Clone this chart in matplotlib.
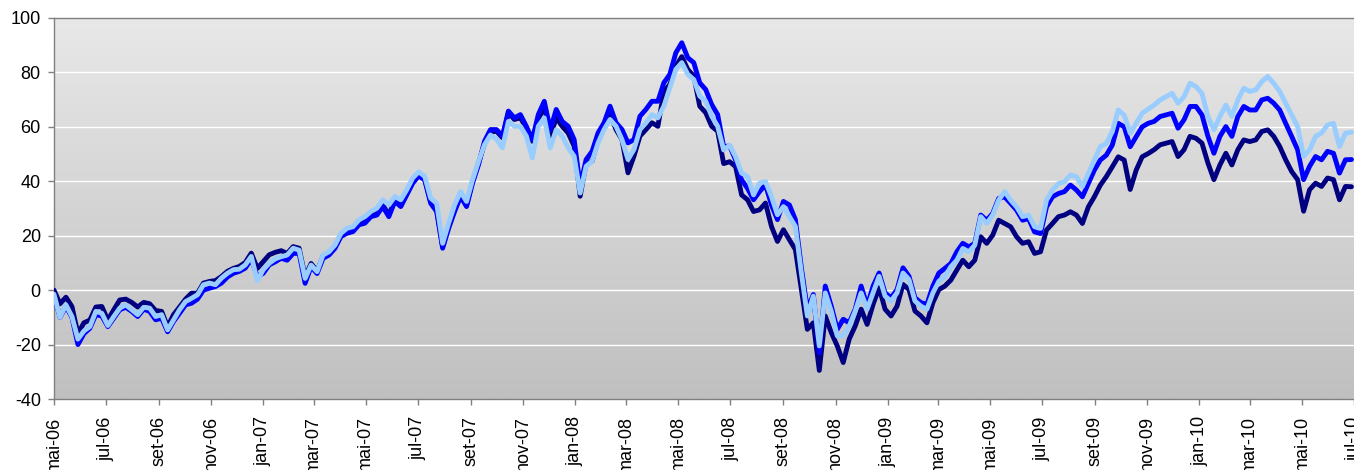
import numpy as np
import pandas as pd
import matplotlib
matplotlib.use("Agg")
import matplotlib.pyplot as plt
from matplotlib.colors import LinearSegmentedColormap

plt.rcParams['font.family'] = ['Liberation Sans', 'DejaVu Sans']

start_date = "2006-05-01"
end_date = "2010-07-01"

light = [-1.5, -10, -5.4, -9.7, -18, -15, -13.4, -7.8, -8.5, -13, -9.7, -6.6, -5.4, -7.2, -9, -6.3, -6.6, -9.7, -9, -14.6,
         -10.9, -7.2, -4.2, -3, -1.7, 2, 2.6, 2, 4.4, 6.2, 7.5, 7.7, 9.3, 12.4, 3.5, 7.5, 9.9, 11.5, 12.3, 12.9,
         15.4, 14.7, 4.3, 9.2, 6.8, 12.9, 14.1, 16.6, 20.9, 22.7, 23.3, 25.8, 27, 28.9, 30.1, 33.2, 31.3, 34.4, 33.2, 36.9,
         41.2, 43.5, 41.8, 33.8, 31.9, 17.2, 24.6, 31.3, 36.2, 32.6, 40.5, 47.3, 53.4, 57, 55.5, 52.3, 62, 60.2, 60.2, 56.6,
         48.6, 60.2, 63.3, 52.3, 59, 56.6, 52.3, 49.2, 35.7, 45.5, 47.4, 54.1, 59, 62.7, 60.2, 55.3, 48, 51.7, 59, 61.5,
         64.5, 63.3, 67.6, 74.4, 81.1, 83.6, 79.3, 77.4, 71.3, 69.4, 63.9, 60.2, 51.5, 53.3, 49, 43, 41.7, 35, 39.3, 39.9,
         34.4, 27.7, 30.7, 27, 23.4, 6.3, -9.5, -2.2, -20.5, -1, -7.7, -16.8, -16.8, -13.2, -7.7, -1, -7, -1, 5.1, -2.2,
         -4, -1, 6.3, 3.9, -4, -5.9, -7, -1, 3.3, 5, 8.6, 11, 15.3, 14.1, 16.5, 27, 24.5, 27.6, 33.1, 36.2,
         33.1, 30.6, 27, 27.6, 23.3, 22.7, 33.1, 36.8, 39.2, 39.8, 42.3, 41.7, 38, 42.9, 47.8, 52.7, 53.9, 58.2, 66.2, 64.3,
         57.6, 61.3, 65, 66.5, 68, 69.9, 71.1, 72.3, 68.7, 71.1, 76, 74.8, 72.3, 63.8, 58.9, 63.8, 68, 63.8, 69.9, 74.2,
         73, 73.6, 76.6, 78.5, 76, 73, 68.7, 64.4, 60.1, 49.1, 51.6, 56.5, 57.7, 60.7, 61.3, 52.8, 57.7, 58]

blue = [-2, -10, -6, -10, -20, -16, -14, -9, -9.5, -13.4, -10.3, -7.2, -6.3, -7.8, -9.7, -7, -7.8, -10.9, -10.3, -15.3,
        -11.5, -8.5, -5.4, -4.8, -3.3, 0, 0.7, 1.3, 2.6, 4.8, 6.2, 6.9, 8.1, 11.4, 5, 6.2, 9.3, 10.4, 11.7, 11,
        13.5, 13.5, 2.5, 8.6, 6.1, 11.7, 12.9, 15.4, 19.7, 20.9, 21.5, 24, 24.6, 27, 27.6, 30.7, 27, 32.6, 30.7, 35,
        39.3, 42, 40.5, 31.9, 28.9, 15.4, 22.7, 28.9, 34.4, 30.7, 39.3, 46.1, 54.7, 59, 59, 56.6, 65.8, 63.3, 64.5, 60.2,
        55.3, 64.5, 69.4, 59, 66.4, 62, 60.2, 55.3, 38.2, 48, 51, 57.8, 61.5, 67.6, 61.5, 59, 54.1, 55.3, 63.9, 66.4,
        69.4, 69.4, 76.2, 79.3, 87.2, 90.9, 85.4, 83.6, 76.2, 73.7, 68.2, 64.5, 52.7, 53, 47.8, 40.5, 37.4, 33.2, 36.2, 38.7,
        31.3, 25.9, 32.6, 31.3, 25.9, 8.2, -7, -1.6, -23, 1.5, -5.9, -14.4, -10.7, -12, -7, 1.5, -5.9, 1.5, 6.3, -1,
        -2.8, 0.2, 8.2, 5.1, -2.8, -4.6, -5.2, 1.5, 6.3, 8, 9.8, 14.1, 17.2, 15.9, 17.2, 27.6, 25.7, 28.2, 33.7, 34.3,
        31.9, 29.4, 25.7, 26.3, 21.4, 20.8, 30.6, 34.3, 35.5, 36.2, 38.6, 36.8, 34.3, 39.2, 44.1, 47.8, 49.6, 53.3, 61.3, 60,
        52.7, 56.4, 60, 61.3, 62, 63.8, 64.4, 65, 59.5, 62.6, 67.5, 67.5, 64.4, 56.5, 50.3, 56.5, 60.1, 56.5, 63.8, 67.5,
        66.2, 66.2, 69.9, 70.5, 68.7, 66.2, 61.3, 56.5, 51.6, 40.6, 45.5, 49.1, 47.9, 51, 50.3, 43, 47.9, 48]

navy = [0, -5, -2.6, -6, -16, -12, -11, -6.2, -6, -11, -7.2, -3.6, -3.3, -4.5, -6.2, -4.5, -5, -7.5, -7.8, -13.4,
        -9, -6.2, -3.3, -1.1, -1.1, 2.6, 3.2, 3.5, 5, 6.9, 8, 8.7, 10.2, 13.6, 8, 10.5, 13, 13.9, 14.5, 13.5,
        16, 15.4, 4.9, 9.8, 7, 12.5, 13.5, 16, 20.3, 21.5, 22.1, 24.6, 25.2, 27.6, 28.2, 31.3, 27.6, 33.2, 31.9, 35.6,
        39.9, 42.4, 40.8, 32.5, 29.5, 16, 23.3, 29.5, 35, 31.3, 39.9, 46.7, 53.8, 58, 58.4, 56, 65.2, 62.7, 63.3, 59.6,
        54.7, 62.7, 67.6, 56.6, 63.3, 60.2, 57.7, 52.9, 34.5, 46.7, 47.4, 55.3, 59.6, 64.5, 59, 55.3, 43.1, 49.2, 56.6, 59,
        61.5, 60.2, 72.9, 75.6, 82.3, 85.8, 81.1, 78.7, 67.6, 65.2, 60.2, 58.4, 46.5, 47.2, 45.4, 35, 33.2, 28.9, 29.5, 32,
        23.4, 17.9, 22.2, 18.5, 14.9, 0.2, -14.4, -12, -29.5, -9.5, -15.6, -20.5, -26.6, -18, -13.2, -7, -12.6, -5.2, 0.9, -7,
        -9.5, -5.9, 2.1, 0.2, -7.7, -9.5, -12, -4.6, 0.2, 1.5, 3.7, 7.4, 11, 8.6, 11, 19.6, 17.2, 20.2, 25.7, 24.5,
        23.3, 19.6, 17.2, 17.8, 13.5, 14.1, 22.1, 24.5, 27, 27.6, 28.8, 27.6, 24.5, 30.6, 34.3, 38.6, 41.7, 45.3, 49, 47.8,
        37, 44.1, 49, 50.2, 51.6, 53.4, 54, 54.6, 49.1, 51.6, 56.5, 55.8, 54, 46.7, 40.6, 46, 50.3, 46, 51.6, 55.2,
        54.6, 55.2, 58.3, 58.9, 56.5, 52.8, 47.9, 43.6, 40.6, 29, 36.9, 39.3, 38.1, 41.2, 40.6, 33.2, 38.1, 38]

tick_dates = pd.date_range("2006-05-01", "2010-07-01", freq="2MS")
tick_labels = ["mai-06", "jul-06", "set-06", "nov-06", "jan-07", "mar-07", "mai-07", "jul-07", "set-07",
               "nov-07", "jan-08", "mar-08", "mai-08", "jul-08", "set-08", "nov-08", "jan-09", "mar-09",
               "mai-09", "jul-09", "set-09", "nov-09", "jan-10", "mar-10", "mai-10", "jul-10"]
y_ticks = [-40, -20, 0, 20, 40, 60, 80, 100]

dates = pd.date_range(start_date, periods=len(light), freq="7D")

fig = plt.figure(figsize=(13.54, 4.70), dpi=100)
ax = fig.add_axes([54 / 1354, 1 - 399 / 470, 1 - 54 / 1354, (399 - 18) / 470])

cmap = LinearSegmentedColormap.from_list("bg", ["#e8e8e8", "#c0c0c0"])
grad = np.linspace(0, 1, 256).reshape(-1, 1)
ax.imshow(grad, extent=[0, 1, 0, 1], transform=ax.transAxes, aspect="auto", cmap=cmap, zorder=0)

for yv in y_ticks[1:-1]:
    ax.axhline(yv, color="white", lw=1.0, zorder=1)

kw = dict(lw=3.5, solid_joinstyle="round", solid_capstyle="round", zorder=3)
ax.plot(dates, navy, color="#000080", **kw)
ax.plot(dates, blue, color="#0000ff", **kw)
ax.plot(dates, light, color="#99ccff", **kw)

ax.set_xlim(pd.Timestamp(start_date), pd.Timestamp(end_date))
ax.set_ylim(-40, 100)
ax.set_yticks(y_ticks)
ax.set_yticklabels([str(v) for v in y_ticks], fontsize=13)
ax.set_xticks(tick_dates)
ax.set_xticklabels(tick_labels, rotation=90, fontsize=13)

for s in ["left", "bottom", "top"]:
    ax.spines[s].set_color("#808080")
    ax.spines[s].set_linewidth(1.0)
ax.spines["right"].set_visible(False)
ax.tick_params(axis="both", direction="out", length=4.5, width=1.0, color="#808080", labelcolor="black")
ax.tick_params(axis="y", pad=5)
ax.tick_params(axis="x", pad=8)

fig.savefig("out.png", dpi=100)
